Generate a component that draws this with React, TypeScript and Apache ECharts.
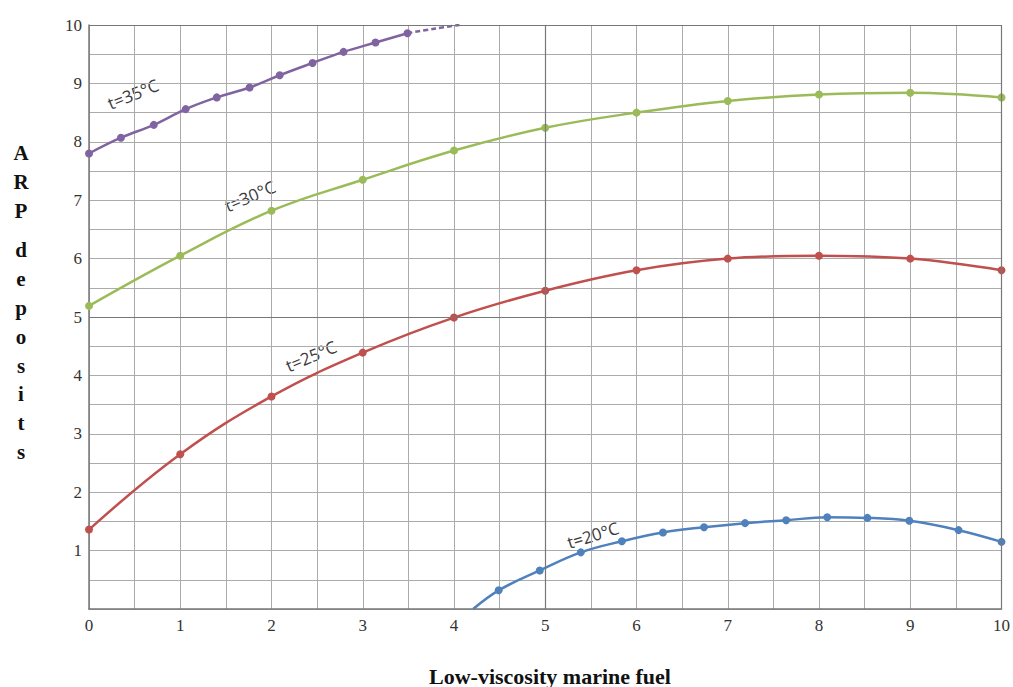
import React, { useEffect, useRef } from "react";
import * as echarts from "echarts";

const xTicks = [0, 1, 2, 3, 4, 5, 6, 7, 8, 9, 10];

const t35X = [0, 0.35, 0.71, 1.06, 1.4, 1.76, 2.09, 2.45, 2.79, 3.14, 3.49];
const t35Y = [7.8, 8.07, 8.29, 8.56, 8.76, 8.93, 9.14, 9.35, 9.54, 9.7, 9.86];
const t35DashX = [3.49, 3.8, 4.06];
const t35DashY = [9.86, 9.94, 10.0];

const t30X = [0, 1, 2, 3, 4, 5, 6, 7, 8, 9, 10];
const t30Y = [5.19, 6.05, 6.82, 7.35, 7.85, 8.24, 8.5, 8.7, 8.81, 8.84, 8.76];

const t25X = [0, 1, 2, 3, 4, 5, 6, 7, 8, 9, 10];
const t25Y = [1.36, 2.65, 3.64, 4.39, 4.99, 5.45, 5.8, 6.0, 6.05, 6.0, 5.8];

const t20StartX = 4.21;
const t20StartY = 0;
const t20X = [4.49, 4.94, 5.39, 5.84, 6.29, 6.74, 7.19, 7.64, 8.09, 8.53, 8.99, 9.53, 10.0];
const t20Y = [0.32, 0.66, 0.97, 1.16, 1.31, 1.4, 1.47, 1.52, 1.57, 1.56, 1.51, 1.35, 1.15];

const curveLabels = ["t=35°C", "t=30°C", "t=25°C", "t=20°C"];

const pairs = (xs: number[], ys: number[]) => xs.map((x, i) => [x, ys[i]]);

export default function App() {
  const ref = useRef<HTMLDivElement>(null);
  useEffect(() => {
    if (!ref.current) return;
    const chart = echarts.init(ref.current, null, { renderer: "svg" });
    const serif = "'Liberation Serif', 'Times New Roman', serif";
    const sans = "'Open Sans', 'Noto Sans', sans-serif";
    const gridColor = "#ababab";
    const darkColor = "#777777";
    const purple = "#8064A2";
    const green = "#9BBB59";
    const red = "#C0504D";
    const blue = "#4F81BD";

    const lineSeries = (name: string, data: any[], color: string, extra: any = {}) => ({
      name,
      type: "line",
      data,
      smooth: 0.4,
      symbol: "circle",
      symbolSize: 8,
      lineStyle: { color, width: 2.5 },
      itemStyle: { color },
      z: 3,
      ...extra,
    });

    chart.setOption({
      animation: false,
      grid: { left: 89, right: 8, top: 25, bottom: 78, containLabel: false },
      xAxis: {
        type: "value",
        min: 0,
        max: 10,
        interval: 1,
        axisLine: { show: true, lineStyle: { color: darkColor, width: 1.5 } },
        axisTick: { show: false },
        axisLabel: {
          color: "#333",
          fontFamily: serif,
          fontSize: 17,
          margin: 8,
          formatter: (v: number) => (xTicks.includes(v) ? String(v) : ""),
        },
        splitLine: { show: true, lineStyle: { color: gridColor, width: 1 } },
        minorTick: { show: false, splitNumber: 2 },
        minorSplitLine: { show: true, lineStyle: { color: gridColor, width: 1 } },
      },
      yAxis: {
        type: "value",
        min: 0,
        max: 10,
        interval: 1,
        axisLine: { show: true, lineStyle: { color: darkColor, width: 1.5 } },
        axisTick: { show: false },
        axisLabel: {
          color: "#333",
          fontFamily: serif,
          fontSize: 17,
          margin: 7,
          formatter: (v: number) => (v === 0 ? "" : String(v)),
        },
        splitLine: { show: true, lineStyle: { color: gridColor, width: 1 } },
        minorTick: { show: false, splitNumber: 2 },
        minorSplitLine: { show: true, lineStyle: { color: gridColor, width: 1 } },
      },
      series: [
        {
          type: "line",
          data: [],
          silent: true,
          markLine: {
            silent: true,
            symbol: "none",
            label: { show: false },
            lineStyle: { color: darkColor, width: 1.2, type: "solid" },
            data: [{ xAxis: 5 }, { yAxis: 5 }, { yAxis: 10 }, { xAxis: 10 }],
          },
        },
        lineSeries("t=35°C", pairs(t35X, t35Y), purple),
        lineSeries("t=35°C dashed", pairs(t35DashX, t35DashY), purple, {
          symbol: "none",
          lineStyle: { color: purple, width: 2.5, type: [5, 3] },
        }),
        lineSeries("t=30°C", pairs(t30X, t30Y), green),
        lineSeries("t=25°C", pairs(t25X, t25Y), red),
        lineSeries(
          "t=20°C",
          [{ value: [t20StartX, t20StartY], symbol: "none" }, ...pairs(t20X, t20Y)],
          blue
        ),
      ],
      graphic: [
        { type: "text", x: 133, y: 94, rotation: (22 * Math.PI) / 180, style: { text: curveLabels[0], font: `17px ${sans}`, fill: "#3a3a3a", align: "center", verticalAlign: "middle" } },
        { type: "text", x: 250, y: 196, rotation: (23 * Math.PI) / 180, style: { text: curveLabels[1], font: `17px ${sans}`, fill: "#3a3a3a", align: "center", verticalAlign: "middle" } },
        { type: "text", x: 311, y: 356, rotation: (23 * Math.PI) / 180, style: { text: curveLabels[2], font: `17px ${sans}`, fill: "#3a3a3a", align: "center", verticalAlign: "middle" } },
        { type: "text", x: 593, y: 535, rotation: (17 * Math.PI) / 180, style: { text: curveLabels[3], font: `17px ${sans}`, fill: "#3a3a3a", align: "center", verticalAlign: "middle" } },
        { type: "text", x: 21, y: 138, style: { text: "A\nR\nP", font: `bold 21px ${serif}`, fill: "#111", align: "center", verticalAlign: "top", lineHeight: 29 } },
        { type: "text", x: 21, y: 236, style: { text: "d\ne\np\no\ns\ni\nt\ns", font: `bold 21px ${serif}`, fill: "#111", align: "center", verticalAlign: "top", lineHeight: 28.8 } },
        { type: "text", x: 550, y: 676, style: { text: "Low-viscosity marine fuel", font: `bold 22px ${serif}`, fill: "#111", align: "center", verticalAlign: "middle" } },
      ],
    });
    return () => chart.dispose();
  }, []);
  return (
    <div
      ref={ref}
      style={{ position: "fixed", left: 0, top: 0, width: 1013, height: 687, background: "#fff" }}
    />
  );
}
